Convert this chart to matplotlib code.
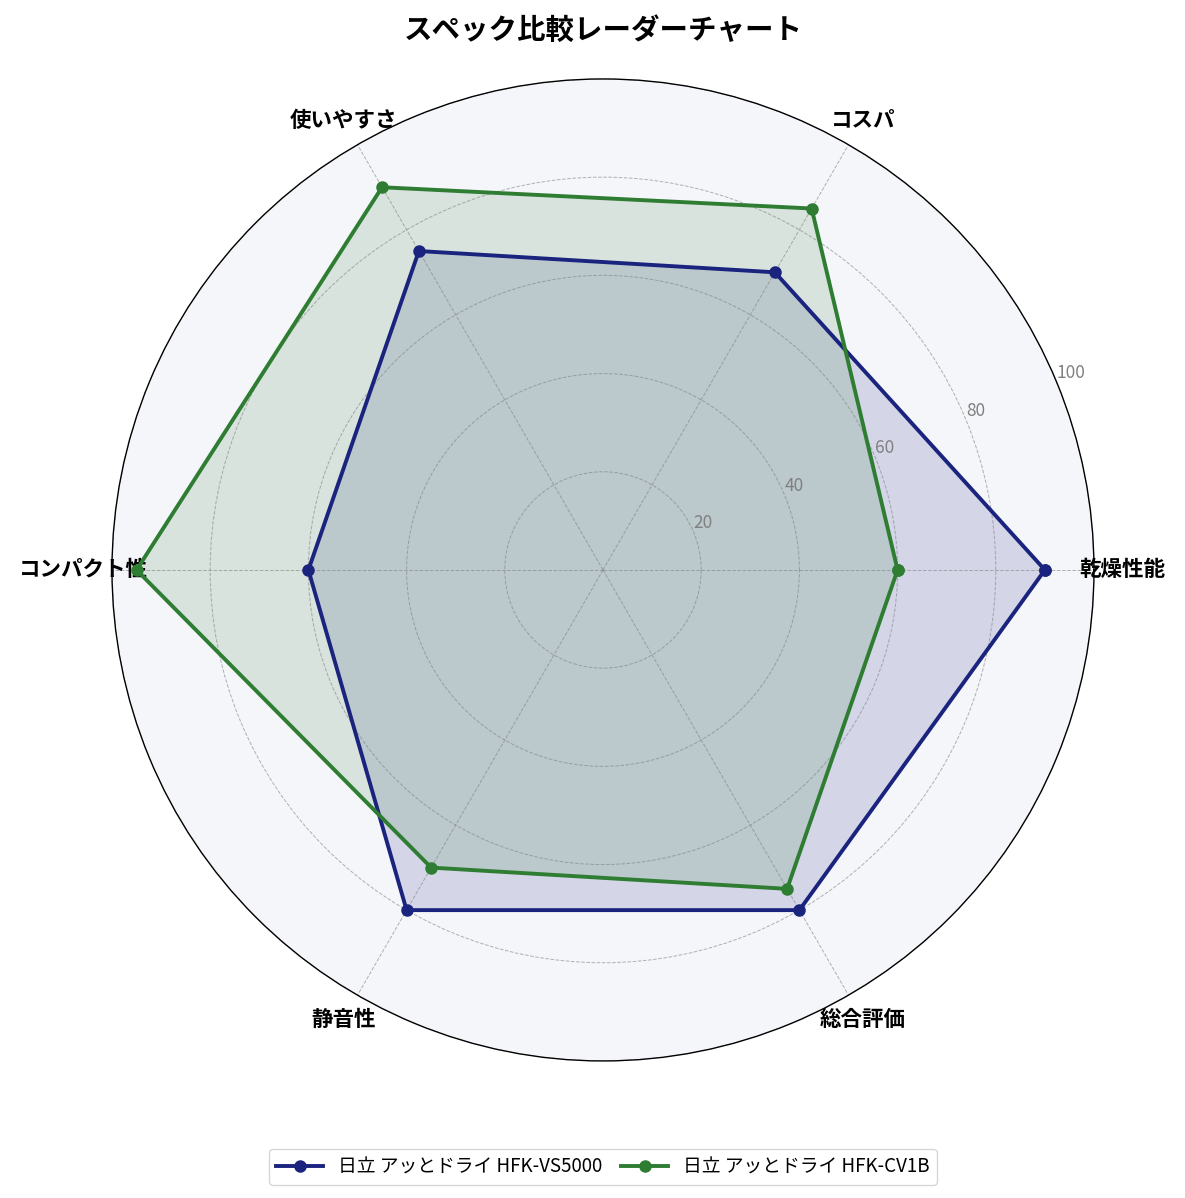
import numpy as np
import matplotlib
matplotlib.use('Agg')
import matplotlib.pyplot as plt

plt.rcParams['font.family'] = ['Noto Sans CJK JP', 'DejaVu Sans']

#------------------------------ data ------------------------------
categories = ['乾燥性能', 'コスパ', '使いやすさ', 'コンパクト性', '静音性', '総合評価']
vs5000 = [90, 70, 75, 60, 80, 80]
cv1b = [60, 85, 90, 95, 70, 75]
names = ['日立 アッとドライ HFK-VS5000', '日立 アッとドライ HFK-CV1B']
colors = ['#1a237e', '#2e7d32']

#------------------------------ plot ------------------------------
angles = np.linspace(0, 2 * np.pi, len(categories), endpoint=False)
angles_c = np.concatenate([angles, angles[:1]])

fig = plt.figure(figsize=(11.85, 11.98), dpi=100)
ax = fig.add_axes([0.0945, 0.1144, 0.8287, 0.8197], polar=True)
ax.set_facecolor('#f5f6fa')

for vals, name, col in zip([vs5000, cv1b], names, colors):
    v = np.concatenate([vals, vals[:1]])
    ax.plot(angles_c, v, color=col, linewidth=2.8, marker='o', markersize=8, label=name)
    ax.fill(angles_c, v, color=col, alpha=0.15)

ax.set_ylim(0, 100)
ax.set_yticks([20, 40, 60, 80, 100])
ax.set_yticklabels(['20', '40', '60', '80', '100'], color='gray', fontsize=12.5)
ax.set_rlabel_position(22.5)
ax.set_xticks(angles)
ax.set_xticklabels(categories, fontsize=15.5, fontweight='bold')
ax.tick_params(axis='x', pad=10)
ax.grid(color='gray', linestyle='--', linewidth=0.7, alpha=0.6)
ax.spines['polar'].set_linewidth(1.0)

ax.set_title('スペック比較レーダーチャート', fontsize=20.5, fontweight='bold', pad=29)
ax.legend(loc='upper center', bbox_to_anchor=(0.5, -0.08), ncol=2, fontsize=13.5,
          handlelength=2.5, columnspacing=1.0)

plt.savefig('out.png', dpi=100)
